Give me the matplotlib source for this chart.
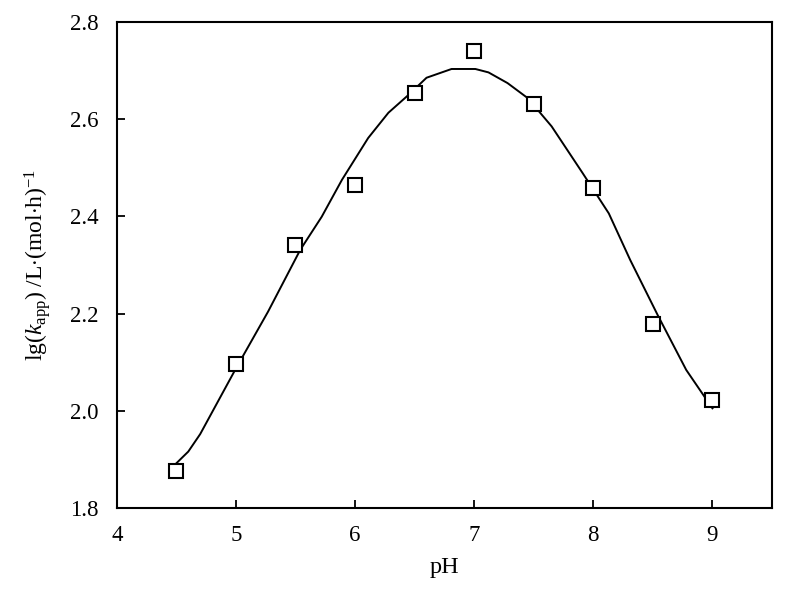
import matplotlib
matplotlib.use("Agg")
import matplotlib.pyplot as plt
from matplotlib.ticker import FormatStrFormatter

plt.rcParams['font.family'] = ['Liberation Serif', 'DejaVu Serif']
plt.rcParams['mathtext.fontset'] = 'custom'
plt.rcParams['mathtext.rm'] = 'Liberation Serif'
plt.rcParams['mathtext.it'] = 'Liberation Serif:italic'

# measured data
ph = [4.5, 5.0, 5.5, 6.0, 6.5, 7.0, 7.5, 8.0, 8.5, 9.0]
lgk = [1.877, 2.097, 2.340, 2.464, 2.654, 2.741, 2.631, 2.458, 2.178, 2.022]

# fitted curve
curve_x = [4.5, 4.60, 4.70, 5.0, 5.27, 5.54, 5.72, 5.89, 6.11, 6.28, 6.45, 6.60,
           6.81, 7.01, 7.12, 7.28, 7.45, 7.65, 7.91, 8.13, 8.31, 8.54, 8.78, 9.0]
curve_y = [1.892, 1.916, 1.952, 2.087, 2.204, 2.331, 2.399, 2.475, 2.561, 2.613, 2.650, 2.685,
           2.703, 2.703, 2.696, 2.674, 2.643, 2.585, 2.489, 2.406, 2.310, 2.197, 2.084, 2.005]

xticks = [4, 5, 6, 7, 8, 9]
yticks = [1.8, 2.0, 2.2, 2.4, 2.6, 2.8]

fig = plt.figure(figsize=(8, 5.9), dpi=100)
ax = fig.add_axes([0.146, 0.139, 0.819, 0.824])

ax.plot(curve_x, curve_y, color='black', lw=1.4, zorder=2)
ax.plot(ph, lgk, linestyle='none', marker='s', markersize=10, markerfacecolor='white',
        markeredgecolor='black', markeredgewidth=1.5, zorder=3)

ax.set_xlim(4, 9.5)
ax.set_ylim(1.8, 2.8)
ax.set_xticks(xticks)
ax.set_yticks(yticks)
ax.yaxis.set_major_formatter(FormatStrFormatter('%.1f'))
ax.tick_params(direction='in', length=6, width=1.3, labelsize=16.5)
ax.tick_params(axis='y', pad=13)
ax.tick_params(axis='x', pad=12)
for s in ax.spines.values():
    s.set_linewidth(1.5)

ax.set_xlabel('pH', fontsize=17.5, labelpad=8)
ax.set_ylabel(r'lg($k_{\rm app}$) /L$\cdot$(mol$\cdot$h)$^{-1}$', fontsize=17, labelpad=12)

fig.savefig('out.png', dpi=100)
